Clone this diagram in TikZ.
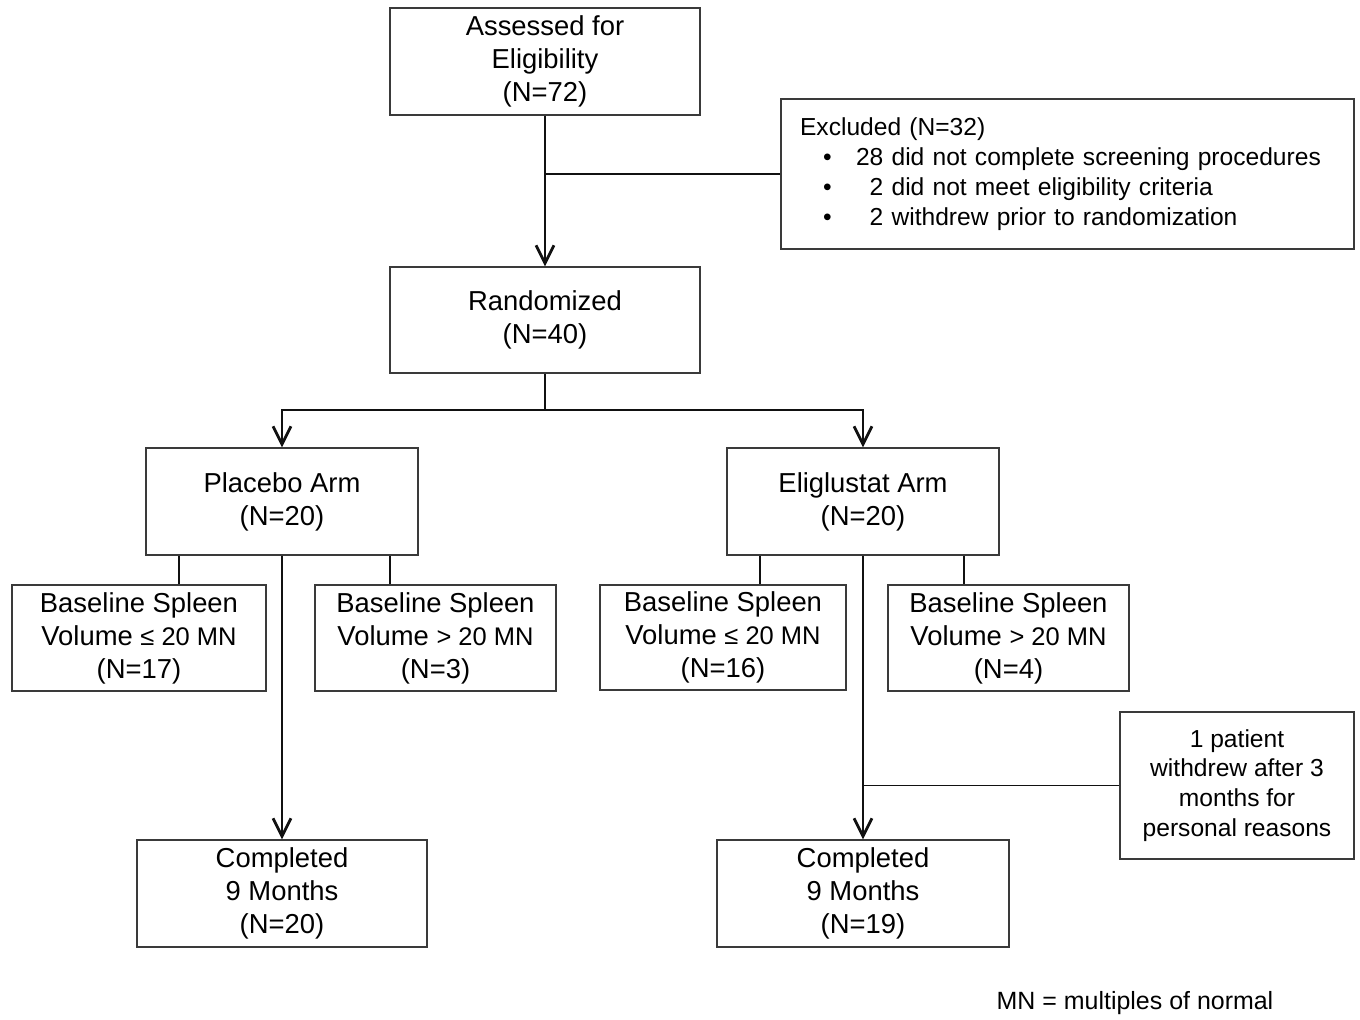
\documentclass[tikz,border=0pt]{standalone}
\usepackage{fontspec}
\setmainfont{Liberation Sans}
\usetikzlibrary{arrows.meta,positioning}
\definecolor{fcline}{HTML}{3A3A3A}
\definecolor{fcdark}{HTML}{111111}
\tikzset{
  box/.style={draw=fcline,line width=0.7pt,align=center,inner sep=2pt,font=\fontsize{15.6}{18.8}\selectfont},
  notebox/.style={box,font=\fontsize{14}{17}\selectfont},
  ar/.style={-{Straight Barb[length=3.6mm,width=3.6mm]},draw=fcdark,line width=1.6pt},
  ln/.style={draw=fcdark,line width=1.6pt},
  stub/.style={draw=fcdark,line width=0.9pt},
}
\newcommand{\lemn}{{\fontsize{14.5}{15}\selectfont ≤ 20 MN}}
\newcommand{\gtmn}{{\fontsize{14.5}{15}\selectfont > 20 MN}}
\newcommand{\exitem}[1]{\hspace*{0.46cm}\makebox[0.66cm][l]{\textbullet}#1}

\begin{document}
\begin{tikzpicture}[x=0.02cm,y=-0.02cm]
  \useasboundingbox (0,0) rectangle (1360,1019);
  % screening
  \node[box,minimum width=6.2cm,minimum height=2.14cm] (assess) at (545,61.5) {Assessed for\\Eligibility\\(N=72)};
  \node[notebox,align=left,inner xsep=0.38cm,text width=10.7cm,minimum height=3cm] (excl) at (1067.5,174)
    {Excluded (N=32)\\
     \exitem{28 did not complete screening procedures}\\
     \exitem{\phantom{2}2 did not meet eligibility criteria}\\
     \exitem{\phantom{2}2 withdrew prior to randomization}};
  \node[box,minimum width=6.2cm,minimum height=2.12cm] (rand) at (545,320) {Randomized\\(N=40)};
  % arms
  \node[box,minimum width=5.44cm,minimum height=2.14cm] (plac) at (282,501.5) {Placebo Arm\\(N=20)};
  \node[box,minimum width=5.44cm,minimum height=2.14cm] (elig) at (863,501.5) {Eliglustat Arm\\(N=20)};
  % spleen volume subgroups
  \node[box,minimum width=5.08cm,minimum height=2.12cm] (plsmall) at (139,638) {Baseline Spleen\\Volume \lemn\\(N=17)};
  \node[box,minimum width=4.82cm,minimum height=2.12cm] (pllarge) at (435.5,638) {Baseline Spleen\\Volume \gtmn\\(N=3)};
  \node[box,minimum width=4.92cm,minimum height=2.10cm] (elsmall) at (723,637.5) {Baseline Spleen\\Volume \lemn\\(N=16)};
  \node[box,minimum width=4.82cm,minimum height=2.12cm] (ellarge) at (1008.5,638) {Baseline Spleen\\Volume \gtmn\\(N=4)};
  % completion
  \node[notebox,minimum width=4.68cm,minimum height=2.94cm] (wdrw) at (1237,785.5) {1 patient\\withdrew after 3\\months for\\personal reasons};
  \node[box,minimum width=5.8cm,minimum height=2.14cm] (compP) at (282,893.5) {Completed\\9 Months\\(N=20)};
  \node[box,minimum width=5.84cm,minimum height=2.14cm] (compE) at (863,893.5) {Completed\\9 Months\\(N=19)};
  \node[font=\fontsize{14.2}{17}\selectfont] (mnnote) at (1135,1003) {MN = multiples of normal};

  \coordinate (split) at (545,410);
  \draw[ar] (assess) -- (rand);
  \draw[stub] (excl.west) -- (excl.west -| assess.south);
  \draw[ln] (rand) -- (split);
  \draw[ar] (split) -| (plac);
  \draw[ar] (split) -| (elig);
  \draw[stub] ([xshift=0.8cm]plsmall.north) -- ([xshift=0.8cm]plsmall.north |- plac.south);
  \draw[stub] ([xshift=-0.91cm]pllarge.north) -- ([xshift=-0.91cm]pllarge.north |- plac.south);
  \draw[stub] ([xshift=0.74cm]elsmall.north) -- ([xshift=0.74cm]elsmall.north |- elig.south);
  \draw[stub] ([xshift=-0.89cm]ellarge.north) -- ([xshift=-0.89cm]ellarge.north |- elig.south);
  \draw[ar] (plac) -- (compP);
  \draw[ar] (elig) -- (compE);
  \draw[stub] (wdrw.west) -- (wdrw.west -| elig.south);
\end{tikzpicture}
\end{document}
